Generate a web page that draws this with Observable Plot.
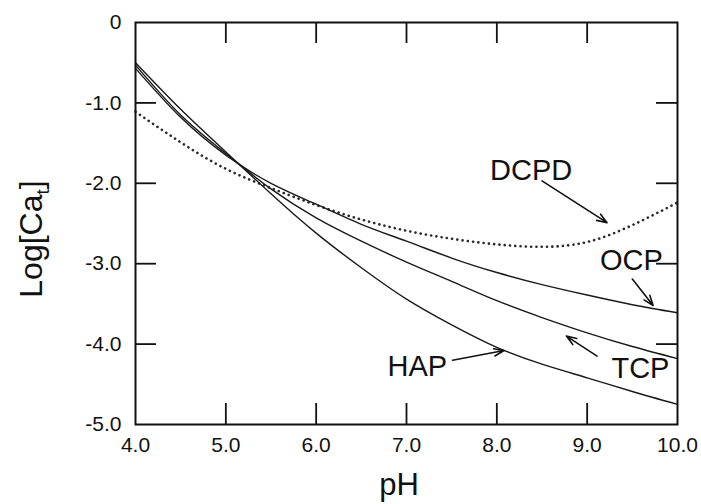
<!DOCTYPE html>
<html>
<head>
<meta charset="utf-8">
<script src="https://cdn.jsdelivr.net/npm/d3@7"></script>
<script src="https://cdn.jsdelivr.net/npm/@observablehq/plot@0.6"></script>
<style>
  html, body { margin: 0; padding: 0; background: #fff; }
  #chart svg { display: block; }
</style>
</head>
<body>
<div id="chart"></div>
<script>
// ---- data ----
const pH   = [4.0, 4.5, 5.0, 5.5, 6.0, 6.5, 7.0, 7.5, 8.0, 8.5, 9.0, 9.5, 10.0];
const HAP  = [-0.50, -1.08, -1.61, -2.13, -2.62, -3.05, -3.44, -3.76, -4.04, -4.25, -4.42, -4.59, -4.75];
const TCP  = [-0.53, -1.15, -1.63, -2.07, -2.43, -2.72, -2.98, -3.22, -3.46, -3.67, -3.86, -4.03, -4.18];
const OCP  = [-0.57, -1.18, -1.65, -2.00, -2.26, -2.51, -2.72, -2.93, -3.11, -3.26, -3.39, -3.51, -3.61];
const DCPD = [-1.11, -1.49, -1.82, -2.06, -2.27, -2.45, -2.59, -2.69, -2.76, -2.79, -2.73, -2.52, -2.24];

const xTicks = [4, 5, 6, 7, 8, 9, 10];
const xTickLabels = ["4.0", "5.0", "6.0", "7.0", "8.0", "9.0", "10.0"];
const yTicks = [0, -1, -2, -3, -4, -5];
const yTickLabels = ["0", "-1.0", "-2.0", "-3.0", "-4.0", "-5.0"];
const xInnerTicks = [5, 6, 7, 8, 9];
const yInnerTicks = [-1, -2, -3, -4];

// annotation labels and arrows (data coordinates)
const labelNames = ["DCPD", "OCP", "TCP", "HAP"];
const labelX  = [8.38, 9.49, 9.59, 7.12];
const labelY  = [-1.84, -2.96, -4.31, -4.28];
const arrowX1 = [8.50, 9.50, 9.11, 7.51];
const arrowY1 = [-1.97, -3.19, -4.15, -4.20];
const arrowX2 = [9.22, 9.73, 8.77, 8.08];
const arrowY2 = [-2.49, -3.52, -3.90, -4.08];

const xTitle = "pH";
const yTitleMain = "Log[Ca";
const yTitleSub = "t";
const yTitleEnd = "]";

// ---- tables built from the arrays ----
const solidSeries = { HAP, TCP, OCP };
const solidRows = [];
for (const [name, vals] of Object.entries(solidSeries)) {
  pH.forEach((p, i) => solidRows.push({ series: name, pH: p, value: vals[i] }));
}
const dcpdRows = pH.map((p, i) => ({ pH: p, value: DCPD[i] }));
const labels = labelNames.map((t, i) => ({ text: t, x: labelX[i], y: labelY[i] }));
const arrows = labelNames.map((t, i) => ({ x1: arrowX1[i], y1: arrowY1[i], x2: arrowX2[i], y2: arrowY2[i] }));

const FONT = "'Liberation Sans', Arial, Helvetica, sans-serif";
const W = 701, H = 504;
const mTop = 22, mLeft = 135, mRight = 24, mBottom = 80;
const innerW = W - mLeft - mRight, innerH = H - mTop - mBottom;
const TICK = 21;

const plot = Plot.plot({
  width: W,
  height: H,
  marginTop: mTop,
  marginLeft: mLeft,
  marginRight: mRight,
  marginBottom: mBottom,
  style: { fontFamily: FONT, fontSize: "21px", color: "#111", background: "#fff" },
  x: { domain: [4, 10] },
  y: { domain: [-5, 0] },
  marks: [
    Plot.axisX({ ticks: xTicks, tickSize: 0, tickPadding: 13, fontSize: 21, label: null,
      tickFormat: d => xTickLabels[xTicks.indexOf(d)] }),
    Plot.axisY({ ticks: yTicks, tickSize: 0, tickPadding: 14, fontSize: 21, label: null,
      tickFormat: d => yTickLabels[yTicks.indexOf(d)] }),
    // inward ticks on all four sides
    Plot.tickX(xInnerTicks, { x: d => d, insetTop: innerH - TICK, stroke: "#111", strokeWidth: 1.8 }),
    Plot.tickX(xInnerTicks, { x: d => d, insetBottom: innerH - TICK, stroke: "#111", strokeWidth: 1.8 }),
    Plot.tickY(yInnerTicks, { y: d => d, insetRight: innerW - TICK, stroke: "#111", strokeWidth: 1.8 }),
    Plot.tickY(yInnerTicks, { y: d => d, insetLeft: innerW - TICK, stroke: "#111", strokeWidth: 1.8 }),
    // curves
    Plot.line(dcpdRows, { x: "pH", y: "value", curve: "natural", stroke: "#2a2a2a",
      strokeWidth: 2.6, strokeDasharray: "0.1,5.2", strokeLinecap: "round" }),
    Plot.line(solidRows, { x: "pH", y: "value", z: "series", curve: "natural",
      stroke: "#1a1a1a", strokeWidth: 1.4 }),
    // annotations
    Plot.arrow(arrows, { x1: "x1", y1: "y1", x2: "x2", y2: "y2", stroke: "#111",
      strokeWidth: 1.6, headLength: 10, headAngle: 40 }),
    Plot.text(labels, { x: "x", y: "y", text: "text", fontSize: 29, fill: "#111",
      fontFamily: FONT }),
    Plot.frame({ stroke: "#111", strokeWidth: 2 })
  ]
});

document.getElementById("chart").appendChild(plot);

// axis titles
const svg = d3.select(plot);
svg.append("text")
  .attr("x", 399).attr("y", 495)
  .attr("text-anchor", "middle")
  .attr("fill", "#111")
  .style("font-family", FONT).style("font-size", "31px")
  .text(xTitle);

const yt = svg.append("text")
  .attr("transform", "translate(42,239) rotate(-90)")
  .attr("text-anchor", "middle")
  .attr("fill", "#111")
  .style("font-family", FONT).style("font-size", "32px");
yt.append("tspan").text(yTitleMain);
yt.append("tspan").attr("dy", 7).style("font-size", "19px").text(yTitleSub);
yt.append("tspan").attr("dy", -7).text(yTitleEnd);
</script>
</body>
</html>
